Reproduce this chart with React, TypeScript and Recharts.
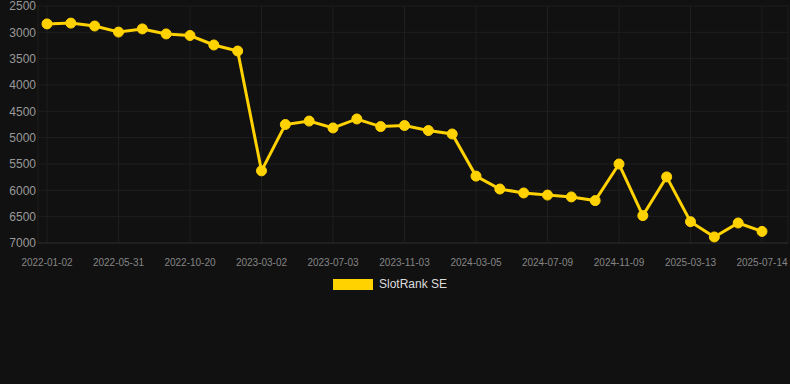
import React from 'react';
import { LineChart, Line, XAxis, YAxis, CartesianGrid, Legend } from 'recharts';

const dates = [
  '2022-01-02', '2022-02-20', '2022-04-10', '2022-05-31', '2022-07-19', '2022-09-01',
  '2022-10-20', '2022-12-07', '2023-01-18', '2023-03-02', '2023-04-15', '2023-05-22',
  '2023-07-03', '2023-08-14', '2023-09-22', '2023-11-03', '2023-12-15', '2024-01-24',
  '2024-03-05', '2024-04-16', '2024-05-28', '2024-07-09', '2024-08-19', '2024-09-29',
  '2024-11-09', '2024-12-20', '2025-01-31', '2025-03-13', '2025-04-24', '2025-06-03',
  '2025-07-14',
];

const ranks = [
  2840, 2825, 2880, 2995, 2935, 3030, 3060, 3240, 3355, 5630, 4750,
  4685, 4815, 4645, 4790, 4770, 4865, 4930, 5730, 5975, 6050, 6090,
  6125, 6195, 5500, 6480, 5745, 6595, 6885, 6620, 6780,
];

const tickDates = [
  '2022-01-02', '2022-05-31', '2022-10-20', '2023-03-02', '2023-07-03', '2023-11-03',
  '2024-03-05', '2024-07-09', '2024-11-09', '2025-03-13', '2025-07-14',
];

const yTicks = [2500, 3000, 3500, 4000, 4500, 5000, 5500, 6000, 6500, 7000];

const data = dates.map((d, i) => ({ date: d, rank: ranks[i] }));

const LINE_COLOR = '#FFD200';

const LegendContent = () => (
  <div
    style={{
      height: 22,
      display: 'flex',
      alignItems: 'center',
      justifyContent: 'center',
      paddingRight: 8,
      fontFamily: 'Arial, "Liberation Sans", sans-serif',
      fontSize: 12,
      color: '#dddddd',
    }}
  >
    <span style={{ display: 'inline-block', width: 40, height: 11, background: LINE_COLOR, marginRight: 6 }} />
    <span>SlotRank SE</span>
  </div>
);

export default function App() {
  return (
    <div style={{ position: 'absolute', left: 0, top: 0, width: 790, height: 384, background: '#111111' }}>
      <LineChart width={790} height={300} data={data} margin={{ top: 6, right: 2, bottom: 5, left: 0 }}>
        <CartesianGrid stroke="#1f1f1f" strokeWidth={1} />
        <XAxis
          dataKey="date"
          ticks={tickDates}
          interval={0}
          height={30}
          padding={{ left: 9, right: 26 }}
          tickLine={false}
          axisLine={{ stroke: '#2a2a2a' }}
          tick={{ fill: '#858585', fontSize: 10, fontFamily: 'Arial, "Liberation Sans", sans-serif' }}
          tickMargin={10}
        />
        <YAxis
          reversed
          domain={[2500, 7000]}
          ticks={yTicks}
          interval={0}
          width={38}
          tickLine={false}
          axisLine={false}
          tickSize={0}
          tickMargin={2}
          tick={{ fill: '#999999', fontSize: 12, fontFamily: 'Arial, "Liberation Sans", sans-serif' }}
        />
        <Legend verticalAlign="bottom" content={<LegendContent />} />
        <Line
          type="linear"
          dataKey="rank"
          name="SlotRank SE"
          stroke={LINE_COLOR}
          strokeWidth={3}
          dot={{ r: 5, fill: LINE_COLOR, stroke: LINE_COLOR, strokeWidth: 1 }}
          activeDot={false}
          isAnimationActive={false}
        />
      </LineChart>
    </div>
  );
}
